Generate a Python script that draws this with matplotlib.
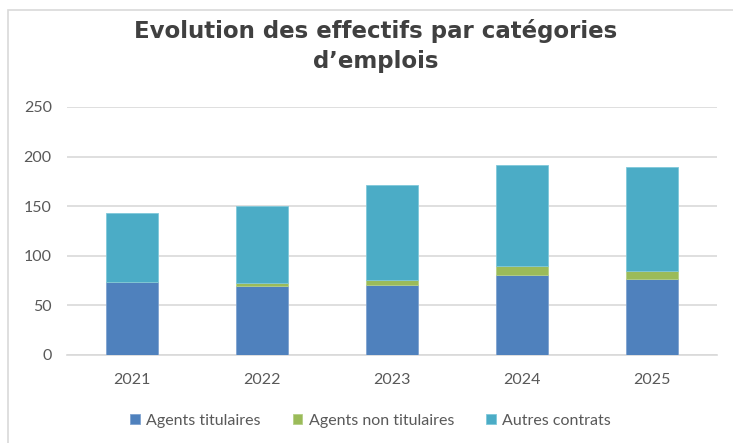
import matplotlib
matplotlib.use("Agg")
import matplotlib.pyplot as plt
from matplotlib.patches import Rectangle
import numpy as np

years = ["2021", "2022", "2023", "2024", "2025"]
titulaires = [74, 70, 71, 81, 77]
non_titulaires = [0, 3, 5, 9, 8]
autres = [69, 77, 95, 102, 105]
labels = ["Agents titulaires", "Agents non titulaires", "Autres contrats"]
colors = ["#4f81bd", "#9bbb59", "#4bacc6"]

plt.rcParams['font.family'] = ['Lato', 'DejaVu Sans']

fig = plt.figure(figsize=(7.33, 4.43), dpi=100)
fig.patches.append(Rectangle((8/733, -0.1), 1.2, (443-10)/443 + 0.1, transform=fig.transFigure,
                             fill=False, edgecolor="#d9d9d9", linewidth=1.2))
ax = fig.add_axes([67/733, (443-355)/443, 650/733, 248/443])

x = np.arange(len(years))
w = 0.4
t = np.array(titulaires)
n = np.array(non_titulaires)
a = np.array(autres)
ax.bar(x, t, w, color=colors[0], label=labels[0], edgecolor="#7fa3d0", linewidth=0.6, zorder=3)
ax.bar(x, n, w, bottom=t, color=colors[1], label=labels[1], edgecolor="#b5cf86", linewidth=0.6, zorder=3)
ax.bar(x, a, w, bottom=t + n, color=colors[2], label=labels[2], edgecolor="#80c8da", linewidth=0.6, zorder=3)

ax.set_xlim(-0.5, len(years) - 0.5)
ax.set_ylim(0, 250)
ax.set_yticks([0, 50, 100, 150, 200, 250])
ax.set_xticks(x)
ax.set_xticklabels(years)
ax.yaxis.grid(True, color="#d9d9d9", linewidth=1.2, zorder=0)
ax.set_axisbelow(True)
for s in ["top", "right", "left"]:
    ax.spines[s].set_visible(False)
ax.spines["bottom"].set_color("#d9d9d9")
ax.spines["bottom"].set_linewidth(1.2)
ax.tick_params(axis="both", length=0, colors="#595959", labelsize=11.5)
ax.tick_params(axis="y", pad=11)
ax.tick_params(axis="x", pad=13)

fig.text(0.512, 0.897, "Evolution des effectifs par catégories\nd\u2019emplois", ha="center", va="center",
         fontsize=16.5, fontweight="bold", color="#404040", linespacing=1.4,
         family=["DejaVu Sans"])

ax.legend(loc="upper center", bbox_to_anchor=(0.467, -0.18), ncol=3, frameon=False,
          fontsize=11.5, labelcolor="#595959", handlelength=0.6, handleheight=0.6,
          handletextpad=0.4, columnspacing=2.0)

fig.savefig("out.png", dpi=100)
